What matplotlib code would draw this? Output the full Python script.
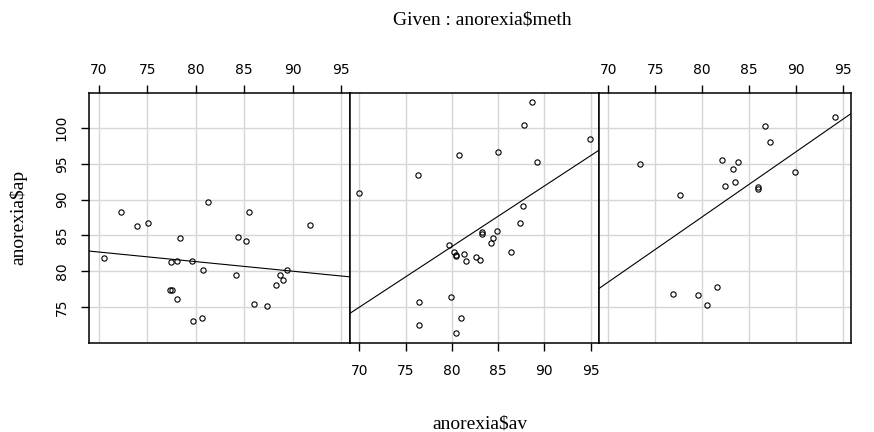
import matplotlib
matplotlib.use('Agg')
import matplotlib.pyplot as plt
import numpy as np

# anorexia data: av = weight before, ap = weight after, one pair per method panel
cont_av = [80.7, 89.4, 91.8, 74.0, 78.1, 88.3, 87.3, 75.1, 80.6, 78.4, 77.6, 88.7, 81.3,
           78.1, 70.5, 77.3, 85.2, 86.0, 84.1, 79.7, 85.5, 84.4, 79.6, 77.5, 72.3, 89.0]
cont_ap = [80.2, 80.1, 86.4, 86.3, 76.1, 78.1, 75.1, 86.7, 73.5, 84.6, 77.4, 79.5, 89.6,
           81.4, 81.8, 77.3, 84.2, 75.4, 79.5, 73.0, 88.3, 84.7, 81.4, 81.2, 88.2, 78.8]

cbt_av = [80.5, 84.9, 81.5, 82.6, 79.9, 88.7, 94.9, 76.3, 81.0, 80.5, 85.0, 89.2, 81.3,
          76.5, 70.0, 80.4, 83.3, 83.0, 87.7, 84.2, 86.4, 76.5, 80.2, 87.8, 83.3, 79.7,
          84.5, 80.8, 87.4]
cbt_ap = [82.2, 85.6, 81.4, 81.9, 76.4, 103.6, 98.4, 93.4, 73.4, 82.1, 96.7, 95.3, 82.4,
          72.5, 90.9, 71.3, 85.4, 81.6, 89.1, 83.9, 82.7, 75.7, 82.6, 100.4, 85.2, 83.6,
          84.6, 96.2, 86.7]

ft_av = [83.8, 83.3, 86.0, 82.5, 86.7, 79.6, 76.9, 94.2, 73.4, 80.5, 81.6, 82.1, 77.6,
         83.5, 89.9, 86.0, 87.3]
ft_ap = [95.2, 94.3, 91.5, 91.9, 100.3, 76.7, 76.8, 101.6, 94.9, 75.2, 77.8, 95.5, 90.7,
         92.5, 93.8, 91.7, 98.0]

x_ticks = [70, 75, 80, 85, 90, 95]
y_ticks = [75, 80, 85, 90, 95, 100]

panels = [(cont_av, cont_ap), (cbt_av, cbt_ap), (ft_av, ft_ap)]

all_x = np.concatenate([cont_av, cbt_av, ft_av])
all_y = np.concatenate([cont_ap, cbt_ap, ft_ap])
# R style 4% range extension
xr = all_x.max() - all_x.min()
yr = all_y.max() - all_y.min()
xlim = (all_x.min() - 0.04 * xr, all_x.max() + 0.04 * xr)
ylim = (all_y.min() - 0.04 * yr, all_y.max() + 0.04 * yr)

tick_font = {'family': 'DejaVu Sans', 'size': 10}
lab_font = {'family': 'Liberation Serif', 'size': 14}

fig = plt.figure(figsize=(8.74, 4.32), dpi=100)

# panel positions in pixels: left, right
edges = [(89, 350), (350, 599), (599, 851)]
top_px, bot_px = 93, 342.5
W, H = 874.0, 432.0

for i, (xs, ys) in enumerate(panels):
    l, r = edges[i]
    ax = fig.add_axes([l / W, 1 - bot_px / H, (r - l) / W, (bot_px - top_px) / H])
    ax.set_xlim(xlim)
    ax.set_ylim(ylim)
    ax.set_xticks(x_ticks)
    ax.set_yticks(y_ticks)
    ax.grid(True, color='#d6d6d6', lw=1.0)
    ax.set_axisbelow(True)
    ax.plot(xs, ys, 'o', ms=3.8, mfc='none', mec='black', mew=0.8)

    # least squares line over full panel width
    b, a = np.polyfit(xs, ys, 1)
    xx = np.array(xlim)
    ax.plot(xx, a + b * xx, color='black', lw=0.8)

    for s in ax.spines.values():
        s.set_linewidth(1.1)
        s.set_color('black')

    # top labels on 1st and 3rd panel, bottom labels on middle
    if i == 1:
        ax.tick_params(axis='x', which='both', top=False, bottom=True, labeltop=False,
                       labelbottom=True, direction='out', length=5.5, width=1, pad=10)
    else:
        ax.tick_params(axis='x', which='both', top=True, bottom=False, labeltop=True,
                       labelbottom=False, direction='out', length=5.5, width=1, pad=6)
    if i == 0:
        ax.tick_params(axis='y', left=True, labelleft=True, direction='out', length=5.5,
                       width=1, pad=9, labelrotation=90)
        for t in ax.get_yticklabels():
            t.set_verticalalignment('center')
        ax.set_ylabel('anorexia$ap', fontdict=lab_font, labelpad=20, parse_math=False)
    else:
        ax.tick_params(axis='y', left=False, labelleft=False)
    for t in ax.get_xticklabels() + ax.get_yticklabels():
        t.set_fontfamily(tick_font['family'])
        t.set_fontsize(tick_font['size'])

fig.text(482 / W, 1 - 20 / H, 'Given : anorexia$meth', ha='center', va='center',
         fontdict=lab_font, parse_math=False)
fig.text(480 / W, 1 - 424 / H, 'anorexia$av', ha='center', va='center',
         fontdict=lab_font, parse_math=False)

fig.savefig('out.png', dpi=100)
